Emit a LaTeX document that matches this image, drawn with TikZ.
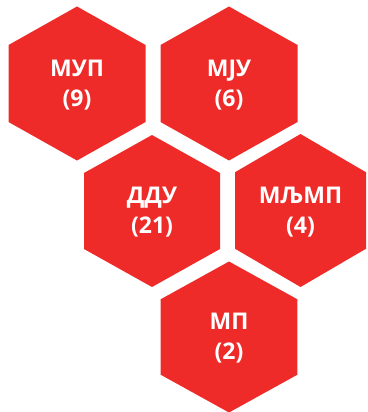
\documentclass[tikz,border=0pt]{standalone}
\usepackage{fontspec}
\setmainfont{Open Sans}
\definecolor{hexred}{RGB}{238,43,41}
\tikzset{
  hexfill/.style={fill=hexred, draw=none},
  lbl/.style={text=white, font=\bfseries\fontsize{23}{30}\selectfont, align=center, inner sep=0pt, yshift=-1.2pt}
}
\newcommand{\hexat}[3]{% center, half-width, radius
  \fill[hexfill] ($(#1)+(0,-#3)$) -- ($(#1)+(#2,-#3/2)$) -- ($(#1)+(#2,#3/2)$) -- ($(#1)+(0,#3)$) -- ($(#1)+(-#2,#3/2)$) -- ($(#1)+(-#2,-#3/2)$) -- cycle;
}
\usetikzlibrary{calc}
\begin{document}
\begin{tikzpicture}[x=1pt,y=-1pt]
\useasboundingbox (0,0) rectangle (367,412);
\coordinate (c1) at (77,83.5);
\coordinate (c2) at (229,83.5);
\coordinate (c3) at (152,211);
\coordinate (c4) at (300.5,210.5);
\coordinate (c5) at (229,337);
\hexat{c1}{68.5}{77}
\hexat{c2}{68.5}{77}
\hexat{c3}{68}{76}
\hexat{c4}{65.5}{76.5}
\hexat{c5}{68.3}{75.5}
\node[lbl] (mup) at (c1) {МУП\\(9)};
\node[lbl] (mju) at (c2) {МЈУ\\(6)};
\node[lbl] (ddu) at (c3) {ДДУ\\(21)};
\node[lbl] (mljmp) at (c4) {МЉМП\\(4)};
\node[lbl] (mp) at (c5) {МП\\(2)};
\end{tikzpicture}
\end{document}
